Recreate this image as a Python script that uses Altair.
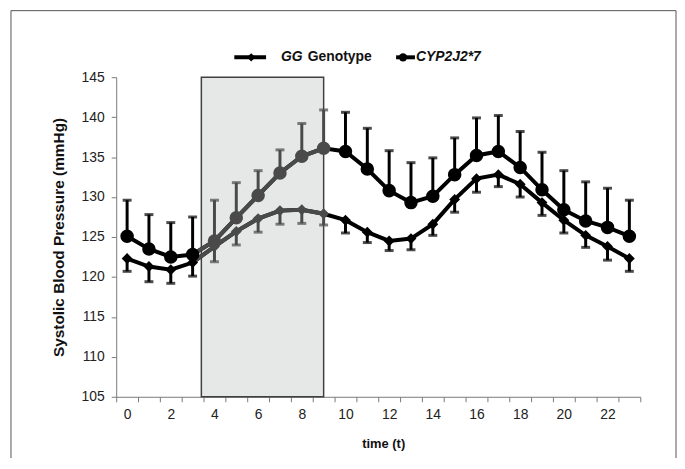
import altair as alt
import pandas as pd

# ---------------- data ----------------
hours = list(range(24))
cyp_mean = [125.1, 123.5, 122.5, 122.8, 124.5, 127.4, 130.2, 133.0, 135.1, 136.1,
            135.7, 133.5, 130.8, 129.3, 130.1, 132.8, 135.2, 135.7, 133.7, 130.9,
            128.4, 127.0, 126.2, 125.1]
cyp_upper = [129.6, 127.8, 126.8, 127.5, 129.6, 131.8, 133.3, 135.9, 139.2, 140.9,
             140.6, 138.6, 135.8, 134.3, 134.9, 137.4, 139.9, 140.2, 138.2, 135.6,
             133.3, 131.9, 131.1, 129.6]
gg_mean = [122.3, 121.3, 120.9, 121.8, 123.8, 125.7, 127.3, 128.3, 128.4, 127.9,
           127.1, 125.6, 124.5, 124.8, 126.6, 129.7, 132.3, 132.8, 131.6, 129.3,
           127.1, 125.2, 123.8, 122.3]
gg_lower = [120.7, 119.4, 119.2, 120.1, 121.9, 124.0, 125.6, 126.6, 126.7, 126.5,
            125.5, 124.3, 123.3, 123.4, 125.2, 128.1, 130.6, 131.3, 130.0, 127.7,
            125.5, 123.7, 122.1, 120.7]
shade_span = [3.4, 9.0]
box_hours = [4, 9]
y_ticks = [105, 110, 115, 120, 125, 130, 135, 140, 145]
x_tick_positions = [i - 0.5 for i in range(25)]

rows = []
for t, m, b in zip(hours, cyp_mean, cyp_upper):
    rows.append({"t": t, "series": "CYP", "mean": m, "bound": b,
                 "zone": "in" if box_hours[0] <= t <= box_hours[1] else "out"})
for t, m, b in zip(hours, gg_mean, gg_lower):
    rows.append({"t": t, "series": "GG", "mean": m, "bound": b,
                 "zone": "in" if box_hours[0] <= t <= box_hours[1] else "out"})
df = pd.DataFrame(rows)
df_gray = df[(df["t"] >= 3) & (df["t"] <= 9)]
df_shade = pd.DataFrame({"x0": [shade_span[0]], "x1": [shade_span[1]],
                         "y0": [y_ticks[0]], "y1": [y_ticks[-1]]})
one = pd.DataFrame({"a": [0]})

FONT = "Liberation Sans"

x_axis = alt.Axis(
    values=x_tick_positions,
    labelExpr="(datum.value + 0.5) % 2 == 0 && datum.value < 23 ? format(datum.value + 0.5, 'd') : ''",
    labelOffset=11, labelOverlap=False, labelFlush=False,
    tickSize=5, labelPadding=6, grid=False,
    title="time (t)", titleX=269, titleY=47, titleAlign="center", titleBaseline="middle",
    titleFontSize=13, titleFontWeight="bold",
)
y_axis = alt.Axis(
    values=y_ticks, tickSize=5, labelPadding=7, grid=False,
    title="Systolic  Blood Pressure (mmHg)", titleAngle=-90, titleX=-58, titleY=161,
    titleAlign="center", titleBaseline="middle", titleFontSize=15.5, titleFontWeight="bold",
)
x_scale = alt.Scale(domain=[-0.5, 23.5], nice=False, zero=False)
y_scale = alt.Scale(domain=[105, 145], nice=False, zero=False)


def xe(field):
    return alt.X(f"{field}:Q", scale=x_scale, axis=x_axis, title="time (t)")


def ye(field):
    return alt.Y(f"{field}:Q", scale=y_scale, axis=y_axis, title="Systolic  Blood Pressure (mmHg)")


zone_color = alt.Color("zone:N", scale=alt.Scale(domain=["out", "in"], range=["#000000", "#4a4a4a"]),
                       legend=None)

frame = alt.Chart(one).mark_rect(fill="transparent", stroke="#555555", strokeWidth=1).encode(
    x=alt.value(-106), x2=alt.value(564), y=alt.value(-67), y2=alt.value(430))

shade = alt.Chart(df_shade).mark_rect(fill="#e6e8e8", stroke="#404040", strokeWidth=1.5).encode(
    x=xe("x0"), x2="x1", y=ye("y0"), y2="y1")

lines_black = alt.Chart(df).mark_line(color="#000000", strokeWidth=4).encode(
    x=xe("t"), y=ye("mean"), detail="series:N")

lines_gray = alt.Chart(df_gray).mark_line(color="#4a4a4a", strokeWidth=4).encode(
    x=xe("t"), y=ye("mean"), detail="series:N")

err = alt.Chart(df).mark_rule(strokeWidth=3).encode(
    x=xe("t"), y=ye("mean"), y2="bound", color=zone_color)

caps = alt.Chart(df).mark_tick(orient="horizontal", size=9, thickness=3).encode(
    x=xe("t"), y=ye("bound"), color=zone_color)

points = alt.Chart(df).mark_point(filled=True, opacity=1).encode(
    x=xe("t"), y=ye("mean"), color=zone_color,
    shape=alt.Shape("series:N", scale=alt.Scale(domain=["GG", "CYP"], range=["diamond", "circle"]),
                    legend=None),
    size=alt.Size("series:N", scale=alt.Scale(domain=["GG", "CYP"], range=[120, 185]), legend=None),
)

# manual legend (mixed italic / regular text)
LY = -20
leg_line1 = alt.Chart(one).mark_rule(color="black", strokeWidth=4).encode(
    x=alt.value(119), x2=alt.value(151), y=alt.value(LY))
leg_pt1 = alt.Chart(one).mark_point(shape="diamond", filled=True, color="black", opacity=1, size=70).encode(
    x=alt.value(136), y=alt.value(LY))
leg_t1a = alt.Chart(one).mark_text(text="GG", align="left", baseline="middle", font=FONT, fontSize=14,
                                   fontWeight="bold", fontStyle="italic", color="#111").encode(
    x=alt.value(166), y=alt.value(LY))
leg_t1b = alt.Chart(one).mark_text(text="Genotype", align="left", baseline="middle", font=FONT, fontSize=14,
                                   fontWeight="bold", color="#111").encode(
    x=alt.value(193), y=alt.value(LY))
leg_line2 = alt.Chart(one).mark_rule(color="black", strokeWidth=4).encode(
    x=alt.value(282), x2=alt.value(301), y=alt.value(LY))
leg_pt2 = alt.Chart(one).mark_point(shape="circle", filled=True, color="black", opacity=1, size=70).encode(
    x=alt.value(289), y=alt.value(LY))
leg_t2 = alt.Chart(one).mark_text(text="CYP2J2*7", align="left", baseline="middle", font=FONT, fontSize=14,
                                  fontWeight="bold", fontStyle="italic", color="#111").encode(
    x=alt.value(302), y=alt.value(LY))

chart = alt.layer(
    frame, shade, lines_black, lines_gray, err, caps, points,
    leg_line1, leg_pt1, leg_t1a, leg_t1b, leg_line2, leg_pt2, leg_t2,
).properties(
    width=528, height=322,
    autosize=alt.AutoSizeParams(type="none"),
    padding={"left": 109, "top": 68, "right": 37, "bottom": 60},
    background="white",
).configure_view(stroke=None).configure_axis(
    domainColor="#7a7a7a", tickColor="#7a7a7a", labelFont=FONT, labelFontSize=14,
    labelColor="#222222", titleFont=FONT, titleColor="#111111",
)

chart.save("out.html", embed_options={"renderer": "svg", "actions": False})
